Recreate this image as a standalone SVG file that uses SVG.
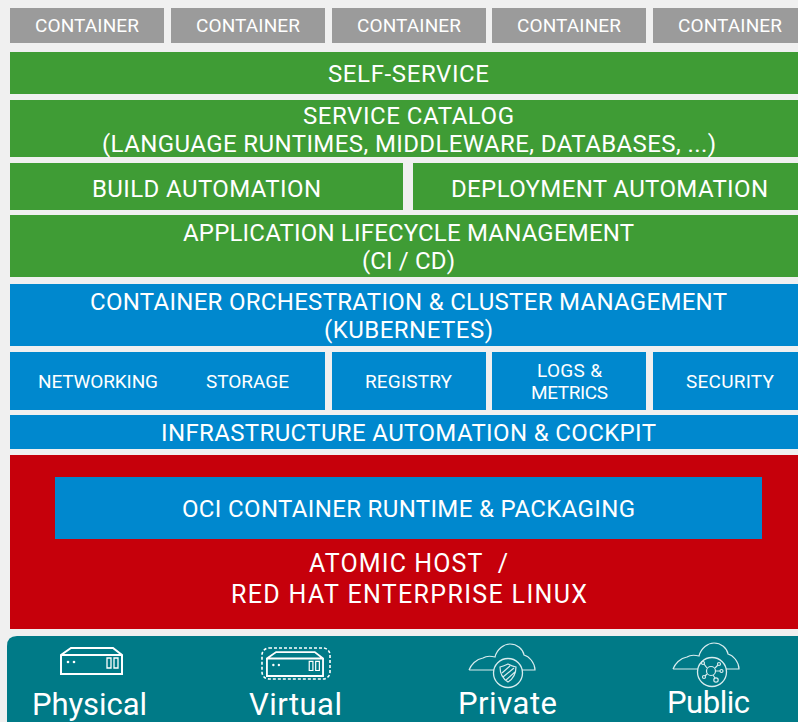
<svg xmlns="http://www.w3.org/2000/svg" width="798" height="722" viewBox="0 0 798 722">
<style>
text{font-family:"Roboto","Liberation Sans",sans-serif;fill:#fff;font-weight:400;white-space:pre}
.a{fill:#9b9b9b}.g{fill:#3f9c35}.b{fill:#0088ce}.r{fill:#c6000b}.t{fill:#007a87}
.s{font-size:19px}.m{font-size:24px}.n{font-size:19px}.l{font-size:31px}
.i{fill:none;stroke:#fff;stroke-width:2}.c{fill:none;stroke:#d8ecee;stroke-width:1.2}
</style>
<defs>
<g id="server"><path class="i" d="M1 12V31H62V12L53 5H11ZM1 12H62"/><circle cx="8" cy="19" r="1.3" fill="#fff"/><circle cx="14" cy="19" r="1.3" fill="#fff"/><path d="M47 15h4v10h-4zM54 15h4v10h-4z" fill="none" stroke="#fff" stroke-width="1.3"/></g>
<path id="cloud" class="c" d="M0 26C2 21 7 15 14 14C17 12 22 12 26 13C28 5 35 0 41 0C48 0 54 5 55 11C60 12 66 19 66 26H53M27 26H0"/>
</defs>
<rect width="798" height="722" fill="#f0f0f0"/>
<g id="containers">
<g id="container-1"><rect class="a" x="10" y="8" width="154" height="35"/><text class="s" x="35" y="32" textLength="104">CONTAINER</text></g>
<g id="container-2"><rect class="a" x="171" y="8" width="154" height="35"/><text class="s" x="196" y="32" textLength="104">CONTAINER</text></g>
<g id="container-3"><rect class="a" x="332" y="8" width="154" height="35"/><text class="s" x="357" y="32" textLength="104">CONTAINER</text></g>
<g id="container-4"><rect class="a" x="492" y="8" width="154" height="35"/><text class="s" x="517" y="32" textLength="104">CONTAINER</text></g>
<g id="container-5"><rect class="a" x="653" y="8" width="145" height="35"/><text class="s" x="678" y="32" textLength="104">CONTAINER</text></g>
</g>
<g id="self-service"><rect class="g" x="10" y="52" width="788" height="42"/><text class="m" x="328" y="82" textLength="161">SELF-SERVICE</text></g>
<g id="service-catalog"><rect class="g" x="10" y="100" width="788" height="57"/><text class="m" x="303" y="124" textLength="211">SERVICE CATALOG</text><text class="m" x="102" y="152" textLength="614">(LANGUAGE RUNTIMES, MIDDLEWARE, DATABASES, ...)</text></g>
<g id="build"><rect class="g" x="10" y="163" width="393" height="47"/><text class="m" x="92" y="197" textLength="229">BUILD AUTOMATION</text></g>
<g id="deployment"><rect class="g" x="413" y="163" width="385" height="47"/><text class="m" x="451" y="197" textLength="317">DEPLOYMENT AUTOMATION</text></g>
<g id="alm"><rect class="g" x="10" y="215" width="788" height="62"/><text class="m" x="183" y="241" textLength="451">APPLICATION LIFECYCLE MANAGEMENT</text><text class="m" x="362" y="269" textLength="93">(CI / CD)</text></g>
<g id="orchestration"><rect class="b" x="10" y="284" width="788" height="62"/><text class="m" x="90" y="310" textLength="637">CONTAINER ORCHESTRATION &amp; CLUSTER MANAGEMENT</text><text class="m" x="324" y="338" textLength="169">(KUBERNETES)</text></g>
<g id="net-storage"><rect class="b" x="10" y="352" width="315" height="58"/><text class="n" x="38" y="388" textLength="120">NETWORKING</text><text class="n" x="206" y="388" textLength="83">STORAGE</text></g>
<g id="registry"><rect class="b" x="332" y="352" width="154" height="58"/><text class="n" x="365" y="388" textLength="87">REGISTRY</text></g>
<g id="logs"><rect class="b" x="492" y="352" width="154" height="58"/><text class="n" x="537" y="377" textLength="65">LOGS &amp;</text><text class="n" x="531" y="399" textLength="77">METRICS</text></g>
<g id="security"><rect class="b" x="653" y="352" width="145" height="58"/><text class="n" x="686" y="388" textLength="88">SECURITY</text></g>
<g id="infrastructure"><rect class="b" x="10" y="415" width="788" height="34"/><text class="m" x="161" y="441" textLength="495">INFRASTRUCTURE AUTOMATION &amp; COCKPIT</text></g>
<g id="host"><rect class="r" x="10" y="455" width="788" height="174"/><text class="m" x="309" y="572" textLength="199" style="font-size:25px">ATOMIC HOST  /</text><text class="m" x="231" y="603" textLength="356" style="font-size:25px">RED HAT ENTERPRISE LINUX</text></g>
<g id="runtime"><rect class="b" x="55" y="477" width="707" height="62"/><text class="m" x="182" y="517" textLength="453">OCI CONTAINER RUNTIME &amp; PACKAGING</text></g>
<g id="footer"><path class="t" d="M798 636H17Q7 636 7 646V722H798Z"/></g>
<g id="physical"><use href="#server" x="60" y="643"/><text class="l" x="32" y="715" textLength="115">Physical</text></g>
<g id="virtual"><use href="#server" transform="translate(266 647.500) scale(.92)"/><rect x="262" y="648" width="68" height="31" rx="7" fill="none" stroke="#fff" stroke-width="1.6" stroke-dasharray="3 2"/><text class="l" x="249" y="715" textLength="93">Virtual</text></g>
<g id="private"><use href="#cloud" x="469" y="644"/><circle cx="508" cy="673" r="14.500" fill="#007a87" stroke="#d8ecee" stroke-width="1.3"/><path class="c" d="M500 667Q504 666 508 664Q512 666 516 667Q516 677 508 682Q500 677 500 667ZM503 677L514 668M506 680L515 672M502 673L510 666"/><text class="l" x="458" y="714" textLength="99">Private</text></g>
<g id="public"><use href="#cloud" x="673" y="643"/><circle cx="712" cy="672" r="14.500" fill="#007a87" stroke="#d8ecee" stroke-width="1.3"/><g class="c"><circle cx="711" cy="671" r="4.500"/><path d="M707 668L704 664M715 668L718 665M716 671H720M713 675L715 678M707 674L705 676"/><circle cx="703" cy="663" r="1.500"/><circle cx="719" cy="664" r="1.500"/><circle cx="721.500" cy="671" r="1.500"/><circle cx="716" cy="680" r="2.200"/><circle cx="704" cy="677" r="1.500"/></g><text class="l" x="667" y="713" textLength="83">Public</text></g>
</svg>
